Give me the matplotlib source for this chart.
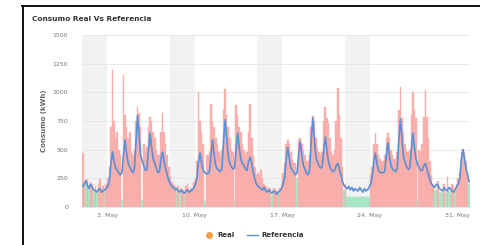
import numpy as np
import matplotlib
matplotlib.use("Agg")
import matplotlib.pyplot as plt
from matplotlib.lines import Line2D

# 3-hour slots, 8 per day, May 1 .. May 31
referencia = [
    180, 200, 230, 190, 160, 200, 170, 150,
    140, 130, 150, 160, 130, 140, 150, 160,
    180, 230, 380, 480, 400, 340, 320, 300,
    280, 300, 450, 585, 470, 380, 350, 320,
    300, 330, 560, 800, 620, 450, 400, 360,
    320, 330, 500, 645, 520, 420, 380, 340,
    300, 310, 420, 480, 400, 330, 280, 230,
    200, 180, 170, 150, 160, 140, 130, 150,
    130, 120, 140, 150, 130, 140, 150, 170,
    200, 260, 400, 470, 380, 320, 300, 290,
    290, 310, 460, 585, 450, 360, 330, 320,
    310, 340, 580, 760, 600, 440, 380, 350,
    330, 340, 500, 645, 520, 420, 380, 360,
    330, 320, 400, 435, 380, 300, 240, 200,
    180, 170, 160, 150, 170, 140, 130, 150,
    130, 120, 140, 130, 110, 130, 140, 160,
    200, 260, 420, 520, 420, 340, 320, 300,
    280, 300, 460, 570, 450, 360, 330, 290,
    280, 330, 580, 775, 600, 440, 390, 360,
    340, 350, 500, 610, 500, 400, 350, 320,
    310, 320, 360, 380, 330, 280, 220, 190,
    170, 160, 180, 150, 170, 140, 160, 150,
    140, 170, 150, 130, 160, 140, 150, 170,
    200, 260, 400, 470, 380, 320, 300, 300,
    300, 310, 450, 560, 440, 360, 330, 320,
    310, 340, 580, 765, 600, 440, 390, 350,
    330, 340, 500, 645, 520, 420, 370, 340,
    320, 320, 360, 380, 330, 280, 230, 200,
    180, 170, 200, 190, 160, 150, 140, 170,
    150, 140, 170, 160, 140, 130, 150, 180,
    200, 250, 420, 500, 420, 330, 280, 220,
]

real = [
    470, 230, 200, 240, 150, 220, 200, 130,
    180, 120, 200, 240, 150, 180, 130, 200,
    250, 350, 700, 1195, 750, 600, 650, 500,
    450, 60, 1150, 800, 700, 600, 650, 480,
    450, 500, 750, 870, 820, 700, 60, 550,
    480, 520, 700, 785, 750, 650, 600, 500,
    450, 450, 650, 820, 650, 550, 450, 350,
    260, 220, 200, 180, 140, 180, 120, 170,
    150, 100, 180, 200, 150, 170, 160, 220,
    250, 400, 1000, 750, 650, 550, 50, 450,
    450, 480, 900, 750, 700, 600, 550, 480,
    450, 500, 850, 1030, 800, 700, 600, 500,
    480, 60, 890, 800, 700, 650, 550, 500,
    450, 480, 650, 900, 600, 450, 350, 280,
    300, 280, 320, 250, 200, 180, 150, 170,
    160, 100, 170, 160, 140, 110, 170, 190,
    300, 380, 550, 580, 550, 480, 420, 380,
    380, 250, 580, 600, 550, 500, 450, 400,
    400, 450, 700, 790, 750, 600, 520, 480,
    450, 480, 750, 870, 780, 730, 600, 480,
    450, 500, 750, 1035, 800, 600, 350, 150,
    200, 90, 90, 90, 90, 90, 90, 90,
    90, 90, 90, 90, 90, 90, 90, 90,
    280, 350, 550, 645, 550, 450, 420, 400,
    400, 450, 600, 645, 600, 500, 450, 420,
    420, 480, 850, 1045, 780, 650, 550, 500,
    480, 500, 800, 1005, 850, 780, 60, 500,
    480, 550, 785, 1020, 785, 600, 400, 280,
    200, 150, 150, 230, 120, 130, 120, 200,
    120, 260, 140, 150, 200, 180, 140, 200,
    250, 300, 480, 510, 480, 400, 300, 200,
]

tick_days = [2, 9, 16, 23, 30]
tick_labels = ["3. May", "10. May", "17. May", "24. May", "31. May"]
weekend_starts = [0, 7, 14, 21]
y_ticks = [0, 250, 500, 750, 1000, 1250, 1500]

W, H = 481, 245
fig = plt.figure(figsize=(W / 100, H / 100), dpi=100)
fig.patch.set_facecolor("white")
ax = fig.add_axes([82 / W, 1 - 207 / H, (470 - 82) / W, (207 - 35) / H])

slot = 1 / 8
x = np.arange(len(real)) * slot
ref = np.array(referencia)
rv = np.array(real)

for s in weekend_starts:
    ax.axvspan(s, s + 2, color="#f2f2f2", zorder=0, lw=0)

colors = np.where(rv >= ref, "#f8aeaa", "#a6e6c6")
ax.bar(x, rv, width=slot, align="edge", color=colors, edgecolor=colors,
       linewidth=0.3, zorder=2)
ax.plot(x + slot / 2, ref, color="#5a8fd8", lw=1.2, zorder=3)

ax.set_xlim(0, 31)
ax.set_ylim(0, 1500)
ax.set_yticks(y_ticks)
ax.set_yticklabels([str(v) for v in y_ticks])
ax.set_xticks(tick_days)
ax.set_xticklabels(tick_labels)
ax.tick_params(axis="y", length=0, pad=10, labelsize=4.5, labelcolor="#777777")
ax.tick_params(axis="x", length=0, pad=4, labelsize=4.5, labelcolor="#777777")
ax.grid(axis="y", color="#e6e6e6", lw=0.6, zorder=1)
ax.set_axisbelow(True)
for sp in ["top", "right", "left"]:
    ax.spines[sp].set_visible(False)
ax.spines["bottom"].set_color("#dde3ee")
ax.spines["bottom"].set_linewidth(0.6)
ax.set_facecolor("white")

fig.text(44 / W, 1 - 121 / H, "Consumo (kWh)", rotation=90, ha="center",
         va="center", fontsize=5, color="#666666", fontweight="bold")
fig.text(32 / W, 1 - 19 / H, "Consumo Real Vs Referencia", ha="left",
         va="center", fontsize=5.3, color="#333333", fontweight="bold")

# legend
fig.lines.append(Line2D([209 / W], [1 - 235 / H], marker="o", markersize=4,
                        color="#f0a040", transform=fig.transFigure))
fig.text(217 / W, 1 - 235 / H, "Real", ha="left", va="center", fontsize=5,
         color="#333333", fontweight="bold")
fig.lines.append(Line2D([247 / W, 258 / W], [1 - 235 / H, 1 - 235 / H],
                        color="#5a8fd8", lw=1, transform=fig.transFigure))
fig.text(261 / W, 1 - 235 / H, "Referencia", ha="left", va="center",
         fontsize=5, color="#333333", fontweight="bold")

# card border (left and top)
fig.lines.append(Line2D([22.5 / W, 22.5 / W], [0, 1 - 6 / H], color="black",
                        lw=1.3, transform=fig.transFigure))
fig.lines.append(Line2D([22 / W, 1], [1 - 6 / H, 1 - 6 / H], color="black",
                        lw=1.3, transform=fig.transFigure))

fig.savefig("out.png", dpi=100)
